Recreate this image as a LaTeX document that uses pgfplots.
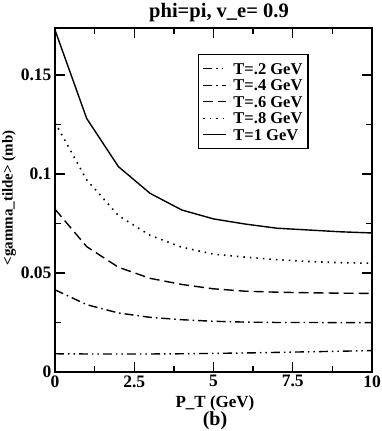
\documentclass[border=0pt]{standalone}
\usepackage{fontspec}
\setmainfont{Liberation Serif}
\usepackage{pgfplots}
\pgfplotsset{compat=1.18}
\begin{document}
\begin{tikzpicture}
\useasboundingbox (-55pt,-59pt) rectangle (327pt,372pt);
\begin{axis}[
    at={(0,0)}, anchor=south west,
    scale only axis, width=317pt, height=344pt,
    xmin=0, xmax=10, ymin=0, ymax=0.1737,
    xtick={0,2.5,5,7.5,10}, xticklabels={0,2.5,5,7.5,10},
    ytick={0,0.05,0.1,0.15}, yticklabels={0,0.05,0.1,0.15},
    minor tick num=1,
    tick align=inside, tick pos=both,
    major tick length=10pt, minor tick length=6pt,
    every tick/.style={black, line width=1.3pt},
    axis line style={line width=1.6pt},
    ticklabel style={font=\bfseries\fontsize{17.5}{17.5}\selectfont},
    /pgf/number format/assume math mode=true,
    legend cell align=left,
    legend style={at={(0.451,0.924)}, anchor=north west, draw=black,
        line width=1.2pt, font=\bfseries\fontsize{16.5}{16.5}\selectfont,
        inner xsep=4pt, inner ysep=5.75pt, row sep=0pt,
        nodes={text height=13pt, text depth=2pt, inner ysep=0.75pt, inner xsep=1.5pt},
        /tikz/every odd column/.append style={column sep=5pt}},
    legend image code/.code={\draw[#1, line width=1.4pt] (4pt,0pt) -- (27pt,0pt);},
]
\addplot[black, line width=1.4pt, dash pattern=on 9pt off 4pt on 1.5pt off 4pt on 1.5pt off 4pt] coordinates {
(0,0.0092) (1,0.0091) (2,0.0091) (3,0.0091) (4,0.0092) (5,0.0094) (6,0.0096) (7,0.0099) (8,0.0102) (9,0.0105) (10,0.0108)};
\addlegendentry{T=.2 GeV}
\addplot[black, line width=1.4pt, dash pattern=on 9pt off 4pt on 1.5pt off 4pt] coordinates {
(0,0.0415) (1,0.0340) (2,0.0298) (3,0.0276) (4,0.0264) (5,0.0256) (6,0.0252) (7,0.0250) (8,0.0250) (9,0.0249) (10,0.0249)};
\addlegendentry{T=.4 GeV}
\addplot[black, line width=1.4pt, dash pattern=on 10pt off 5pt] coordinates {
(0,0.0822) (1,0.0633) (2,0.0529) (3,0.0473) (4,0.0442) (5,0.0420) (6,0.0408) (7,0.0403) (8,0.0400) (9,0.0398) (10,0.0397)};
\addlegendentry{T=.6 GeV}
\addplot[black, line width=1.6pt, dash pattern=on 1.5pt off 5pt] coordinates {
(0,0.126) (1,0.097) (2,0.079) (3,0.069) (4,0.063) (5,0.0595) (6,0.058) (7,0.0567) (8,0.0558) (9,0.0552) (10,0.0549)};
\addlegendentry{T=.8 GeV}
\addplot[black, line width=1.4pt] coordinates {
(0,0.1727) (1,0.128) (2,0.1037) (3,0.0902) (4,0.0818) (5,0.0773) (6,0.0747) (7,0.0726) (8,0.0717) (9,0.0708) (10,0.0702)};
\addlegendentry{T=1 GeV}
\end{axis}
\node[font=\bfseries\fontsize{20.5}{20.5}\selectfont] at (164pt,359pt) {phi=pi, v\_e= 0.9};
\node[font=\bfseries\fontsize{15}{15}\selectfont, rotate=90] at (-46pt,174pt) {<gamma\_tilde> (mb)};
\node[font=\bfseries\fontsize{17}{17}\selectfont] at (160pt,-31pt) {P\_T (GeV)};
\node[font=\bfseries\fontsize{20}{20}\selectfont] at (160pt,-49pt) {(b)};
\end{tikzpicture}
\end{document}
